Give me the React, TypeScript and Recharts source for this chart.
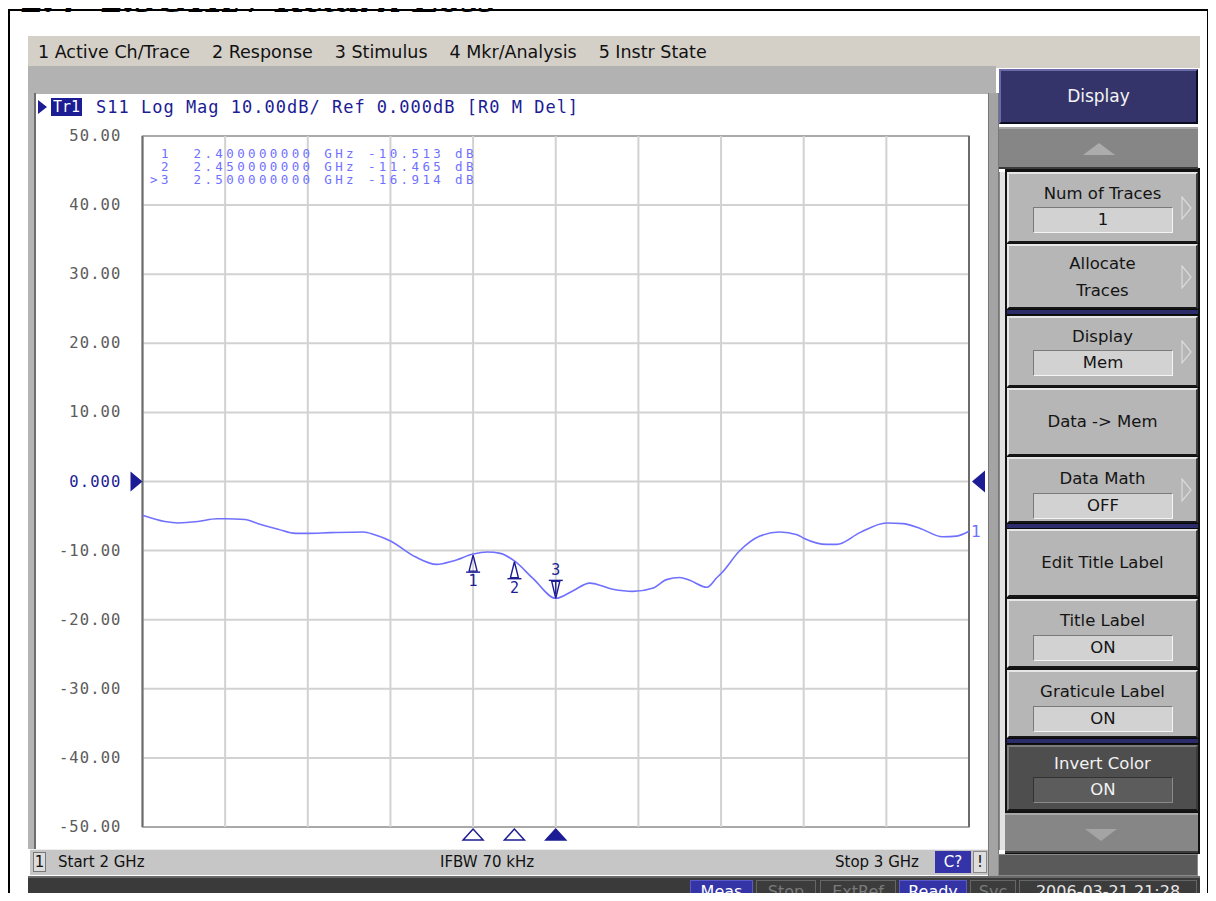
import React from "react";
import {
  LineChart,
  Line,
  XAxis,
  YAxis,
  CartesianGrid,
  ReferenceArea,
  ReferenceLine,
  ReferenceDot,
} from "recharts";

// S11 trace: frequency (GHz) / log magnitude (dB)
const freqGHz = [
  2.0, 2.027, 2.043, 2.067, 2.09, 2.1, 2.124, 2.14, 2.164, 2.185, 2.2, 2.227,
  2.267, 2.281, 2.3, 2.33, 2.356, 2.376, 2.4, 2.417, 2.433, 2.45, 2.473, 2.5,
  2.521, 2.541, 2.569, 2.593, 2.618, 2.634, 2.65, 2.662, 2.683, 2.695, 2.701,
  2.722, 2.747, 2.771, 2.792, 2.8, 2.828, 2.84, 2.868, 2.9, 2.92, 2.941, 2.968,
  2.985, 3.0,
];
const s11dB = [
  -4.9, -5.8, -6.0, -5.8, -5.4, -5.4, -5.5, -6.1, -6.9, -7.5, -7.5, -7.4,
  -7.3, -7.7, -8.6, -10.9, -12.0, -11.5, -10.5, -10.2, -10.4, -11.5, -14.1,
  -16.9, -15.8, -14.7, -15.6, -15.9, -15.4, -14.2, -13.9, -14.3, -15.3, -13.9,
  -13.2, -10.1, -7.9, -7.3, -7.7, -8.2, -9.1, -9.1, -7.4, -6.0, -6.1, -6.8,
  -8.0, -7.9, -7.2,
];

const xTicks = [2.0, 2.1, 2.2, 2.3, 2.4, 2.5, 2.6, 2.7, 2.8, 2.9, 3.0];
const yTicks = [50, 40, 30, 20, 10, 0, -10, -20, -30, -40, -50];

const markerFreq = [2.4, 2.45, 2.5];
const markerDb = [-10.513, -11.465, -16.914];
const activeMarker = 2;

const menuItems = ["1 Active Ch/Trace", "2 Response", "3 Stimulus", "4 Mkr/Analysis", "5 Instr State"];

const data = freqGHz.map((f, i) => ({ f, db: s11dB[i] }));

const NAVY = "#1c1c94";
const TRACE = "#7070ff";
const UI = "'DejaVu Sans', sans-serif";
const MONO = "'DejaVu Sans Mono', monospace";

const YTick = (props: any) => {
  const { x, y, payload } = props;
  const zero = payload.value === 0;
  return (
    <text
      x={x - 19}
      y={y}
      textAnchor="end"
      dominantBaseline="central"
      fontFamily={MONO}
      fontSize={15.5}
      letterSpacing={1.1}
      fill={zero ? NAVY : "#5c5c5c"}
    >
      {zero ? "0.000" : payload.value.toFixed(2)}
    </text>
  );
};

// marker glyph sitting on the trace
const TraceMarker = ({ cx, cy, n, active }: any) => {
  if (active) {
    return (
      <g stroke={NAVY} fill="none" strokeWidth={1.4}>
        <polygon points={`${cx},${cy} ${cx - 4},${cy - 17} ${cx + 4},${cy - 17}`} />
        <line x1={cx - 7} y1={cy - 18} x2={cx + 7} y2={cy - 18} />
        <line x1={cx} y1={cy - 17} x2={cx} y2={cy - 4} />
        <text x={cx} y={cy - 28} textAnchor="middle" dominantBaseline="central" fontFamily={MONO} fontSize={15} fill={NAVY} stroke="none">
          {n}
        </text>
      </g>
    );
  }
  return (
    <g stroke={NAVY} fill="none" strokeWidth={1.4}>
      <polygon points={`${cx},${cy + 1} ${cx - 4},${cy + 17} ${cx + 4},${cy + 17}`} />
      <line x1={cx - 7} y1={cy + 18} x2={cx + 7} y2={cy + 18} />
      <text x={cx} y={cy + 27} textAnchor="middle" dominantBaseline="central" fontFamily={MONO} fontSize={15} fill={NAVY} stroke="none">
        {n}
      </text>
    </g>
  );
};

const BottomMarker = ({ cx, cy, active }: any) => (
  <polygon
    points={`${cx},${cy + 2} ${cx - 10},${cy + 13} ${cx + 10},${cy + 13}`}
    fill={active ? NAVY : "#ffffff"}
    stroke={NAVY}
    strokeWidth={1.5}
  />
);

const SoftKey = ({ top, height, label, value, lines, dark, arrow, labelOffset = 22, boxOffset = 35 }: any) => {
  const hi = dark ? "#7c7c7c" : "#e6e6e6";
  return (
    <div
      style={{
        position: "absolute",
        left: 1007,
        top,
        width: 191,
        height,
        boxSizing: "border-box",
        background: dark ? "#4e4e4e" : "#b6b6b6",
        borderTop: `2px solid ${hi}`,
        borderLeft: `2px solid ${hi}`,
        borderRight: "2px solid #3a3a3a",
        borderBottom: "2px solid #161616",
        color: dark ? "#f2f2f2" : "#141414",
        fontFamily: UI,
        fontSize: 16.5,
        textAlign: "center",
      }}
    >
      {value !== undefined ? (
        <>
          <div style={{ position: "absolute", left: 0, right: 0, top: labelOffset - 12, lineHeight: "20px" }}>{label}</div>
          <div
            style={{
              position: "absolute",
              left: 24,
              top: boxOffset - 2,
              width: 140,
              height: 26,
              boxSizing: "border-box",
              background: dark ? "#5c5c5c" : "#d2d2d2",
              borderTop: `1px solid ${dark ? "#333" : "#7a7a7a"}`,
              borderLeft: `1px solid ${dark ? "#333" : "#7a7a7a"}`,
              borderBottom: `1px solid ${dark ? "#8a8a8a" : "#f4f4f4"}`,
              borderRight: `1px solid ${dark ? "#8a8a8a" : "#f4f4f4"}`,
              lineHeight: "24px",
            }}
          >
            {value}
          </div>
        </>
      ) : (
        <div
          style={{
            position: "absolute",
            left: 0,
            right: 0,
            top: "50%",
            transform: "translateY(-50%)",
            lineHeight: lines ? "27px" : "20px",
          }}
        >
          {(lines || [label]).map((t: string) => (
            <div key={t}>{t}</div>
          ))}
        </div>
      )}
      {arrow && (
        <svg style={{ position: "absolute", left: 172, top: height / 2 - 14 }} width={12} height={24}>
          <polygon points="1,1 10,12 1,23" fill="none" stroke="#dadada" strokeWidth={1.2} />
        </svg>
      )}
    </div>
  );
};

const Separator = ({ top }: any) => (
  <div style={{ position: "absolute", left: 1007, top, width: 191, height: 6, background: "#2c2c6a", borderTop: "1px solid #0a0a0a", borderBottom: "1px solid #0a0a0a", boxSizing: "border-box" }} />
);

const StatusCell = ({ left, width, text, on, date }: any) => (
  <div
    style={{
      position: "absolute",
      left,
      top: 880,
      width,
      height: 24,
      boxSizing: "border-box",
      background: on ? "#3434a6" : "#3c3c3c",
      border: `1px solid ${on ? "#5a5ac8" : "#666"}`,
      color: on ? "#ffffff" : date ? "#e8e8e8" : "#7a7a7a",
      fontFamily: UI,
      fontSize: 16,
      lineHeight: "22px",
      textAlign: "center",
    }}
  >
    {text}
  </div>
);

export default function App() {
  const lastDb = s11dB[s11dB.length - 1];
  const readout = markerFreq.map(
    (f, i) => `${i === activeMarker ? ">" : " "}${i + 1}  ${f.toFixed(9)} GHz ${markerDb[i].toFixed(3)} dB`
  );

  return (
    <div style={{ position: "relative", margin: -8, width: 1216, height: 901, overflow: "hidden", background: "#ffffff" }}>
      {/* document heading, cut off at the top */}
      <div
        style={{
          position: "absolute",
          left: 22,
          top: -24,
          fontFamily: "'Liberation Serif', serif",
          fontWeight: "bold",
          fontStyle: "italic",
          fontSize: 44,
          lineHeight: "44px",
          whiteSpace: "nowrap",
        }}
      >
        2.4~2.5GHz / Return Loss
      </div>
      {/* page frame */}
      <div style={{ position: "absolute", left: 8, top: 9, width: 1201, height: 1000, border: "2px solid #000", boxSizing: "border-box" }} />

      {/* menu bar */}
      <div
        style={{
          position: "absolute",
          left: 28,
          top: 36,
          width: 1172,
          height: 32,
          background: "#d4d0c8",
          display: "flex",
          alignItems: "center",
          gap: 22,
          paddingLeft: 10,
          boxSizing: "border-box",
          fontFamily: UI,
          fontSize: 17.5,
          color: "#111",
          whiteSpace: "nowrap",
        }}
      >
        {menuItems.map((m) => (
          <span key={m}>{m}</span>
        ))}
      </div>
      <div style={{ position: "absolute", left: 28, top: 66, width: 968, height: 28, background: "#b2b2b2" }} />

      {/* chart window */}
      <div style={{ position: "absolute", left: 28, top: 93, width: 8, height: 756, background: "#b4b4b4", borderRight: "2px solid #6e6e6e", boxSizing: "border-box" }} />
      <div style={{ position: "absolute", left: 36, top: 94, width: 952, height: 755, background: "#ffffff" }} />
      <div style={{ position: "absolute", left: 988, top: 93, width: 11, height: 783, background: "#a4a4a4", borderLeft: "1px solid #777", borderRight: "1px solid #777", boxSizing: "border-box" }} />
      <div style={{ position: "absolute", left: 999, top: 172, width: 8, height: 678, background: "#e2e2e2", borderLeft: "1px solid #888", boxSizing: "border-box" }} />

      {/* trace title line */}
      <svg style={{ position: "absolute", left: 38, top: 100 }} width={10} height={14}>
        <polygon points="0,0 9,7 0,14" fill={NAVY} />
      </svg>
      <div
        style={{
          position: "absolute",
          left: 51,
          top: 98,
          width: 31,
          height: 18,
          background: NAVY,
          color: "#fff",
          fontFamily: MONO,
          fontSize: 15,
          lineHeight: "18px",
          textAlign: "center",
        }}
      >
        Tr1
      </div>
      <div
        style={{
          position: "absolute",
          left: 96,
          top: 97,
          fontFamily: MONO,
          fontSize: 17,
          letterSpacing: 1,
          lineHeight: "20px",
          color: NAVY,
          whiteSpace: "pre",
        }}
      >
        S11 Log Mag 10.00dB/ Ref 0.000dB [R0 M Del]
      </div>

      {/* plot */}
      <div style={{ position: "absolute", left: 30, top: 120 }}>
        <LineChart width={960} height={730} data={data} margin={{ top: 16, right: 21, bottom: 23, left: 0 }}>
          <CartesianGrid stroke="#d2d2d2" strokeWidth={2} vertical={false} />
          <XAxis
            type="number"
            dataKey="f"
            domain={[2, 3]}
            ticks={xTicks}
            height={0}
            tick={false}
            axisLine={false}
            tickLine={false}
          />
          <YAxis
            type="number"
            domain={[-50, 50]}
            ticks={yTicks}
            interval={0}
            width={112.5}
            tickSize={0}
            tickLine={false}
            axisLine={false}
            tick={<YTick />}
          />
          {xTicks.map((t) => (
            <ReferenceLine key={`g${t}`} x={t} stroke="#d2d2d2" strokeWidth={2} />
          ))}
          <ReferenceArea x1={2} x2={3} y1={-50} y2={50} fill="none" stroke="#9c9c9c" strokeWidth={1.5} />
          <ReferenceLine x={2} stroke="#6c6c6c" strokeWidth={2} />
          <ReferenceLine x={3} stroke="#6c6c6c" strokeWidth={2} />
          <Line
            type="monotone"
            dataKey="db"
            stroke={TRACE}
            strokeWidth={1.6}
            dot={false}
            isAnimationActive={false}
          />
          {markerFreq.map((f, i) => (
            <ReferenceDot
              key={`m${i}`}
              x={f}
              y={markerDb[i]}
              r={0}
              shape={(p: any) => <TraceMarker cx={p.cx} cy={p.cy} n={i + 1} active={i === activeMarker} />}
            />
          ))}
          {markerFreq.map((f, i) => (
            <ReferenceDot
              key={`b${i}`}
              x={f}
              y={-50}
              r={0}
              shape={(p: any) => <BottomMarker cx={p.cx} cy={p.cy} active={i === activeMarker} />}
            />
          ))}
          <ReferenceDot
            x={2}
            y={0}
            r={0}
            shape={(p: any) => <polygon points={`${p.cx - 12},${p.cy - 10} ${p.cx},${p.cy} ${p.cx - 12},${p.cy + 10}`} fill={NAVY} />}
          />
          <ReferenceDot
            x={3}
            y={0}
            r={0}
            shape={(p: any) => <polygon points={`${p.cx + 16},${p.cy - 11} ${p.cx + 3},${p.cy} ${p.cx + 16},${p.cy + 11}`} fill={NAVY} />}
          />
          <ReferenceDot
            x={3}
            y={lastDb}
            r={0}
            shape={(p: any) => (
              <text x={p.cx + 2} y={p.cy} dominantBaseline="central" fontFamily={MONO} fontSize={16} fill={TRACE}>
                1
              </text>
            )}
          />
        </LineChart>
      </div>

      {/* marker readout */}
      <div
        style={{
          position: "absolute",
          left: 150,
          top: 147,
          fontFamily: MONO,
          fontSize: 12.5,
          letterSpacing: 3.37,
          lineHeight: "13px",
          color: TRACE,
          whiteSpace: "pre",
        }}
      >
        {readout.map((r) => (
          <div key={r}>{r}</div>
        ))}
      </div>

      {/* channel status bar */}
      <div style={{ position: "absolute", left: 30, top: 849, width: 958, height: 26, background: "#c6c6c6", borderTop: "1px solid #eee", boxSizing: "border-box", fontFamily: UI, fontSize: 15, color: "#111" }}>
        <div style={{ position: "absolute", left: 3, top: 2, width: 13, height: 20, border: "1px solid #777", boxSizing: "border-box", background: "#dcdcdc", textAlign: "center", lineHeight: "18px" }}>1</div>
        <div style={{ position: "absolute", left: 28, top: 2, lineHeight: "20px" }}>Start 2 GHz</div>
        <div style={{ position: "absolute", left: 410, top: 2, lineHeight: "20px" }}>IFBW 70 kHz</div>
        <div style={{ position: "absolute", left: 805, top: 2, lineHeight: "20px" }}>Stop 3 GHz</div>
        <div style={{ position: "absolute", left: 905, top: 1, width: 36, height: 22, background: "#3434a8", color: "#fff", textAlign: "center", lineHeight: "22px" }}>C?</div>
        <div style={{ position: "absolute", left: 943, top: 1, width: 14, height: 22, background: "#dedede", border: "1px solid #888", boxSizing: "border-box", textAlign: "center", lineHeight: "20px" }}>!</div>
      </div>

      {/* instrument status bar */}
      <div style={{ position: "absolute", left: 28, top: 876, width: 1172, height: 30, background: "#3a3a3a", borderTop: "2px solid #6a6a6a", boxSizing: "border-box" }} />
      <StatusCell left={690} width={63} text="Meas" on />
      <StatusCell left={756} width={60} text="Stop" />
      <StatusCell left={820} width={76} text="ExtRef" />
      <StatusCell left={899} width={68} text="Ready" on />
      <StatusCell left={970} width={46} text="Svc" />
      <StatusCell left={1019} width={178} text="2006-03-21 21:28" date />

      {/* softkey column */}
      <div style={{ position: "absolute", left: 1005, top: 168, width: 195, height: 686, background: "#121212" }} />
      <div
        style={{
          position: "absolute",
          left: 999,
          top: 69,
          width: 199,
          height: 55,
          boxSizing: "border-box",
          background: "#34346a",
          borderTop: "2px solid #6a6aa8",
          borderLeft: "2px solid #6a6aa8",
          borderBottom: "2px solid #0c0c20",
          borderRight: "2px solid #0c0c20",
          color: "#f4f4f4",
          fontFamily: UI,
          fontSize: 17,
          lineHeight: "51px",
          textAlign: "center",
        }}
      >
        Display
      </div>
      <div style={{ position: "absolute", left: 999, top: 127, width: 199, height: 42, background: "#868686", borderTop: "2px solid #a8a8a8", borderBottom: "2px solid #3a3a3a", boxSizing: "border-box" }}>
        <svg style={{ position: "absolute", left: 84, top: 13 }} width={32} height={14}>
          <polygon points="0,13 16,1 32,13" fill="#acacac" />
        </svg>
      </div>

      <SoftKey top={172} height={71} label="Num of Traces" value="1" arrow />
      <SoftKey top={244} height={65} lines={["Allocate", "Traces"]} arrow />
      <Separator top={309} />
      <SoftKey top={316} height={71} label="Display" value="Mem" arrow labelOffset={21} boxOffset={34} />
      <SoftKey top={388} height={68} label="Data -> Mem" />
      <SoftKey top={457} height={66} label="Data Math" value="OFF" arrow boxOffset={36} />
      <Separator top={523} />
      <SoftKey top={529} height={68} label="Edit Title Label" />
      <SoftKey top={599} height={69} label="Title Label" value="ON" boxOffset={36} />
      <SoftKey top={670} height={68} label="Graticule Label" value="ON" boxOffset={36} />
      <Separator top={738} />
      <SoftKey top={745} height={66} label="Invert Color" value="ON" dark labelOffset={19} boxOffset={32} />
      <div style={{ position: "absolute", left: 1005, top: 813, width: 193, height: 40, background: "#868686", borderTop: "2px solid #a8a8a8", borderBottom: "2px solid #3a3a3a", boxSizing: "border-box" }}>
        <svg style={{ position: "absolute", left: 80, top: 13 }} width={32} height={14}>
          <polygon points="0,1 16,13 32,1" fill="#a4a4a4" />
        </svg>
      </div>
      <div style={{ position: "absolute", left: 998, top: 854, width: 200, height: 22, background: "#5a5a5a", border: "1px solid #8a8a8a", boxSizing: "border-box" }} />
    </div>
  );
}
